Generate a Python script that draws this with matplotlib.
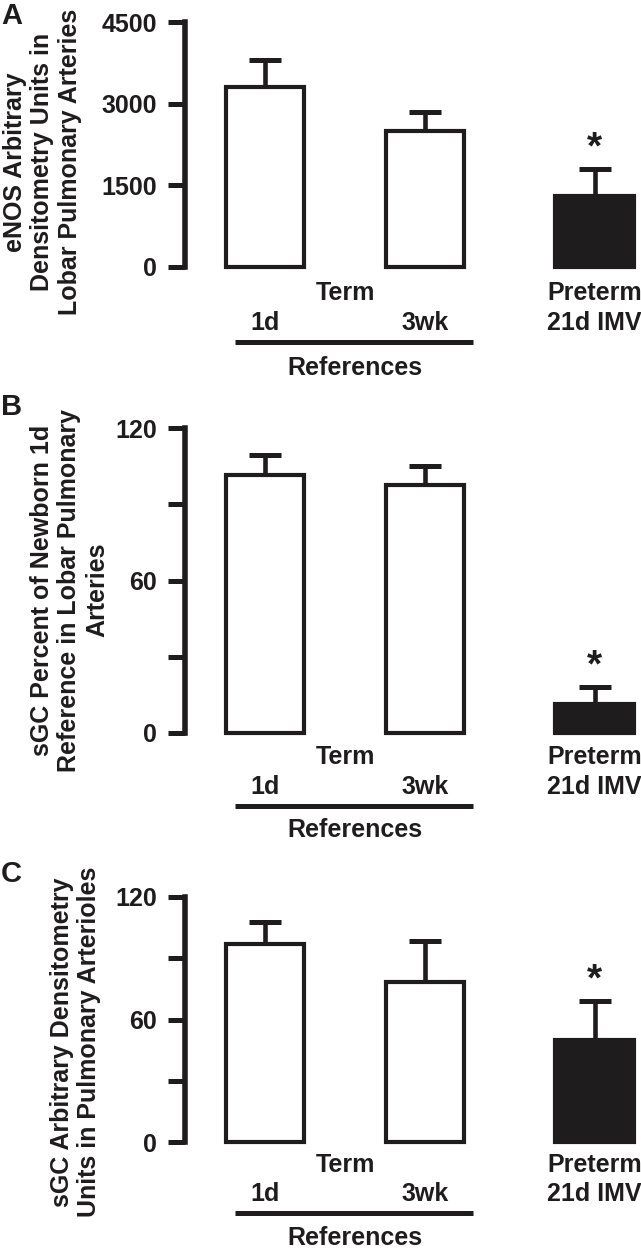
import numpy as np
import matplotlib.pyplot as plt
import matplotlib.transforms as mtransforms

plt.rcParams['font.family'] = ['Liberation Sans', 'DejaVu Sans']
plt.rcParams['font.weight'] = 'bold'

# data
groups = ['1d', '3wk', 'Preterm']
enos_mean = [3300, 2500, 1300]
enos_err = [500, 350, 500]
lobar_mean = [101.5, 97.5, 11.5]
lobar_err = [8, 7.5, 6.5]
arteriole_mean = [97, 78.5, 50]
arteriole_err = [11, 20, 19]

W, H = 641, 1257
ink = '#1f1c1d'
fs = 18

fig = plt.figure(figsize=(W / 100, H / 100), dpi=100)
fig.patch.set_facecolor('white')

x = np.array([0, 1, 2.06])
xlim = (-0.5, -0.5 + (W - 185) / 160.0)


def px_axes(top, bottom, left=185):
    return [left / W, 1 - bottom / H, (W - left) / W, (bottom - top) / H]


def panel(top, bottom, mean, err, ymax, yticks, ticklabels, ylabel_lines,
          label_x0, label_y, letter, letter_y, offs):
    ax = fig.add_axes(px_axes(top, bottom))
    ax.set_xlim(*xlim)
    ax.set_ylim(0, ymax)
    for s in ['top', 'right', 'bottom']:
        ax.spines[s].set_visible(False)
    ax.spines['left'].set_linewidth(4)
    ax.spines['left'].set_color(ink)
    ax.spines['left'].set_bounds(0, ymax)
    ax.set_xticks([])
    ax.set_yticks(yticks)
    ax.set_yticklabels(ticklabels)
    ax.tick_params(axis='y', length=12, width=3.6, color=ink, pad=8,
                   labelsize=fs, labelcolor=ink)
    ax.patch.set_visible(False)

    ax.errorbar(x, mean, yerr=[np.zeros(3), err], fmt='none', ecolor=ink,
                elinewidth=3.3, capsize=11.5, capthick=3.6, zorder=2, clip_on=False)
    ax.bar(x, mean, width=0.49, color=['white', 'white', ink], edgecolor=ink,
           linewidth=3, zorder=3, clip_on=False)

    # significance star above preterm error bar
    ax.annotate('*', xy=(x[2], mean[2] + err[2]), xytext=(0, 2),
                textcoords='offset points', ha='center', va='bottom',
                fontsize=28, color=ink, annotation_clip=False)

    # offsets below the zero line, in pixels
    o = [-v * 0.72 for v in offs]

    def under(txt, xx, dy):
        ax.annotate(txt, xy=(xx, 0), xytext=(0, dy), textcoords='offset points',
                    ha='center', va='center', fontsize=fs, color=ink,
                    annotation_clip=False)

    under('Term', 0.5, o[0])
    under(groups[0], x[0], o[1])
    under(groups[1], x[1], o[1])
    under('Preterm', x[2], o[0])
    under('21d IMV', x[2], o[1])
    under('References', 0.56, o[3])
    tr = mtransforms.offset_copy(ax.transData, fig=fig, y=o[2], units='points')
    ax.plot([-0.19, 1.3], [0, 0], color=ink, lw=3.6, transform=tr,
            clip_on=False, solid_capstyle='butt')

    # y label, one rotated text per line
    for i, line in enumerate(ylabel_lines):
        fig.text((label_x0 + 27.5 * i) / W, 1 - label_y / H, line, rotation=90,
                 ha='center', va='center', fontsize=fs, color=ink)
    fig.text(1 / W, 1 - letter_y / H, letter, ha='left', va='center',
             fontsize=21, color=ink)
    return ax


panel(22, 267, enos_mean, enos_err, 4500, [0, 1500, 3000, 4500],
      ['0', '1500', '3000', '4500'],
      ['eNOS Arbitrary', 'Densitometry Units in', 'Lobar Pulmonary Arteries'],
      15, 162, 'A', 16, [26, 56, 75, 101])

panel(428, 733, lobar_mean, lobar_err, 120, [0, 30, 60, 90, 120],
      ['0', '', '60', '', '120'],
      ['sGC Percent of Newborn 1d', 'Reference in Lobar Pulmonary', 'Arteries'],
      42, 590, 'B', 407, [24, 54, 73, 97])

panel(897, 1142, arteriole_mean, arteriole_err, 120, [0, 30, 60, 90, 120],
      ['0', '', '60', '', '120'],
      ['sGC Arbitrary Densitometry', 'Units in Pulmonary Arterioles'],
      62, 1042, 'C', 874, [23, 52, 71, 96])

fig.savefig('out.png', dpi=100)
